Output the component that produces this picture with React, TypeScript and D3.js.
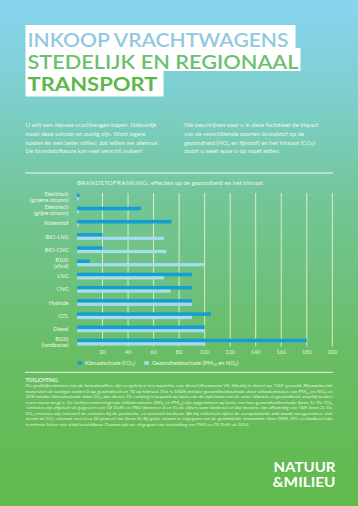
import { useEffect } from 'react';
import * as d3 from 'd3';

const categories = [
  'Elektrisch (groene stroom)',
  'Elektrisch (grijze stroom)',
  'Waterstof',
  'BIO-LNG',
  'BIO-CNG',
  'B100 (afval)',
  'LNG',
  'CNG',
  'Hybride',
  'GTL',
  'Diesel',
  'B100 (landbouw)',
];
const klimaat = [2, 50, 74, 20, 20, 10, 90, 90, 90, 105, 100, 180];
const gezondheid = [1.5, 1.5, 1.3, 68, 70, 100, 68, 73.5, 90, 90, 100, 100];
const ticks = [20, 40, 60, 80, 100, 120, 140, 160, 180, 200];

const introLeft = [
  'U wilt een nieuwe vrachtwagen kopen. Natuurlijk',
  'moet deze schoon en zuinig zijn. Want lagere',
  'kosten én een beter milieu: dat willen we allemaal.',
  'De brandstofkeuze kan veel verschil maken!',
];

const toelichting = [
  'De praktijkemissies van de brandstoffen zijn vergeleken ten opzichte van diesel (Euronorm VI). Hierbij is diesel op ‘100’ gesteld. Bijvoorbeeld:',
  'waterstof uit aardgas scoort 0 op gezondheid en 70 op klimaat. Dat is 100% minder gezondheidsschade door uitlaatemissies van PM₁₀ en NOₓ en',
  '30% minder klimaatschade door CO₂ dan diesel. De ranking is bepaald op basis van de optelsom van de score klimaat en gezondheid, waarbij beiden',
  'even zwaar wegen. De luchtverontreinigende uitlaatemissies (NOₓ en PM₁₀) zijn opgenomen op basis van hun gezondheidsschade (bron 1). De CO₂',
  '-emissies zijn afgeleid uit gegevens van CE Delft en TNO (bronnen 4 en 5); de cijfers voor biodiesel en bio-benzine zijn afkomstig van T&E (bron 2). De',
  'CO₂-emissies zijn inclusief de emissies bij de productie, en inclusief methaan. Als bij elektrisch rijden de accuproductie ook wordt meegenomen, dan',
  'neemt de CO₂-uitstoot met circa 20 procent toe (bron 6). Bij grijze stroom is uitgegaan van de gemiddelde stroommix. Voor GNG, GTL en biodiesel zijn',
  'tenminste feiten niet altijd beschikbaar. Daarom zijn we uitgegaan van inschatting van TNO en CE Delft uit 2014.',
];

const W = 358;
const H = 506;
const FONT = 'Lato, "Open Sans", sans-serif';
const DARK = '#139fd3';
const LIGHT = '#a6dcf0';
const PALE = '#eef7e6';

export default function App() {
  useEffect(() => {
    document.body.style.margin = '0';
  }, []);

  const x = d3.scaleLinear().domain([0, 200]).range([77, 332.3]);
  const y = d3.scaleBand().domain(categories).range([190.4, 348.8]);
  const darkH = 3.6;
  const lightH = 3.2;
  const off = 3.1;

  return (
    <svg width={W} height={H} style={{ display: 'block', fontFamily: FONT }}>
      <defs>
        <linearGradient id="bg" x1="0" y1="0" x2="0" y2="1">
          <stop offset="0" stopColor="#88d4f1" />
          <stop offset="0.2" stopColor="#7ccfcb" />
          <stop offset="0.4" stopColor="#73c596" />
          <stop offset="0.7" stopColor="#69bd65" />
          <stop offset="1" stopColor="#61ba4c" />
        </linearGradient>
      </defs>
      <rect width={W} height={H} fill="url(#bg)" />

      {/* titel */}
      <rect x={25.5} y={25} width={270} height={23.5} fill="#fff" />
      <rect x={25.5} y={48} width={275} height={23} fill="#fff" />
      <rect x={25.5} y={70.5} width={138} height={26} fill="#fff" />
      <text x={27.5} y={46.5} fontSize={19.6} fontWeight={600} fill="#93c9df" textLength={261} lengthAdjust="spacingAndGlyphs">
        INKOOP VRACHTWAGENS
      </text>
      <text x={27.5} y={69.3} fontSize={19.6} fontWeight={600} fill="#6dbf70" textLength={271} lengthAdjust="spacingAndGlyphs">
        STEDELIJK EN REGIONAAL
      </text>
      <text x={27.5} y={90.8} fontSize={19.6} fontWeight={700} fill="#5cb74c" textLength={130} lengthAdjust="spacingAndGlyphs">
        TRANSPORT
      </text>

      {/* intro */}
      <g fontSize={6.1} fill={PALE}>
        {introLeft.map((t, i) => (
          <text key={i} x={25.5} y={127.3 + i * 8.7}>
            {t}
          </text>
        ))}
        <text x={184} y={127.3}>We beschrijven voor u in deze factsheet de impact</text>
        <text x={184} y={136}>van de verschillende soorten brandstof op de</text>
        <text x={184} y={144.7}>
          gezondheid (NO<tspan fontSize={4} dy={1.5}>x</tspan>
          <tspan dy={-1.5}> en fijnstof) en het klimaat (CO</tspan>
          <tspan fontSize={4} dy={1.5}>2</tspan>
          <tspan dy={-1.5}>)</tspan>
        </text>
        <text x={184} y={153.4}>zodat u weet waar u op moet letten.</text>
      </g>

      <line x1={25} x2={333} y1={173} y2={173} stroke="#f4faf0" strokeWidth={1} />

      {/* grafiek */}
      <text x={77} y={185.3} fontSize={6.2} fill={PALE}>
        <tspan letterSpacing={0.35}>BRANDSTOFRANKING:</tspan> effecten op de gezondheid en het klimaat
      </text>

      {ticks.map((t) => (
        <line key={t} x1={x(t)} x2={x(t)} y1={193} y2={346.5} stroke="#f3f7df" strokeOpacity={0.9} strokeWidth={0.9} />
      ))}

      {categories.map((c, i) => {
        const y0 = (y(c) as number) + off;
        return (
          <g key={c}>
            <rect x={x(0)} y={y0} width={x(klimaat[i]) - x(0)} height={darkH} fill={DARK} />
            <rect x={x(0)} y={y0 + darkH} width={x(gezondheid[i]) - x(0)} height={lightH} fill={LIGHT} />
          </g>
        );
      })}

      <g fontSize={5.6} fill={PALE} textAnchor="end">
        {categories.map((c) => {
          const mid = (y(c) as number) + y.bandwidth() / 2;
          const k = c.indexOf(' (');
          if (k < 0) {
            return (
              <text key={c} x={68.5} y={mid + 2}>
                {c}
              </text>
            );
          }
          return (
            <text key={c} x={68.5} y={mid - 0.9}>
              <tspan>{c.slice(0, k)}</tspan>
              <tspan x={68.5} dy={5.8}>
                {c.slice(k + 1)}
              </tspan>
            </text>
          );
        })}
      </g>

      <g fontSize={5.6} fill="#e4f1da" textAnchor="middle">
        {ticks.map((t) => (
          <text key={t} x={x(t)} y={353.7}>
            {t}
          </text>
        ))}
      </g>

      {/* legenda */}
      <rect x={77.5} y={361.2} width={4.6} height={3.6} fill={DARK} />
      <text x={85} y={365} fontSize={5.6} fill={PALE}>
        Klimaatschade (CO<tspan fontSize={3.8} dy={1.3}>2</tspan>
        <tspan dy={-1.3}>)</tspan>
      </text>
      <rect x={144.3} y={361.2} width={4.6} height={3.6} fill={LIGHT} />
      <text x={152} y={365} fontSize={5.6} fill={PALE}>
        Gezondheidsschade (PM<tspan fontSize={3.8} dy={1.3}>10</tspan>
        <tspan dy={-1.3}> en NO</tspan>
        <tspan fontSize={3.8} dy={1.3}>2</tspan>
        <tspan dy={-1.3}>)</tspan>
      </text>

      <line x1={25} x2={333} y1={372.3} y2={372.3} stroke="#e8f5dc" strokeWidth={1} />

      {/* toelichting */}
      <text x={25.5} y={381.7} fontSize={4.8} fontWeight={700} fill={PALE}>
        TOELICHTING:
      </text>
      <g fontSize={4.55} fill="#e6f3dc">
        {toelichting.map((t, i) => (
          <text key={i} x={25.5} y={387.3 + i * 5.5} textLength={i < 7 ? 307 : undefined} lengthAdjust="spacingAndGlyphs">
            {t}
          </text>
        ))}
      </g>

      {/* logo */}
      <g fill="#fff" fontWeight={700}>
        <text x={273.5} y={472.3} fontSize={13.6} textLength={62} lengthAdjust="spacingAndGlyphs">
          NATUUR
        </text>
        <text x={272.5} y={487} fontSize={13.6} textLength={63} lengthAdjust="spacingAndGlyphs">
          &amp;MILIEU
        </text>
      </g>
    </svg>
  );
}
